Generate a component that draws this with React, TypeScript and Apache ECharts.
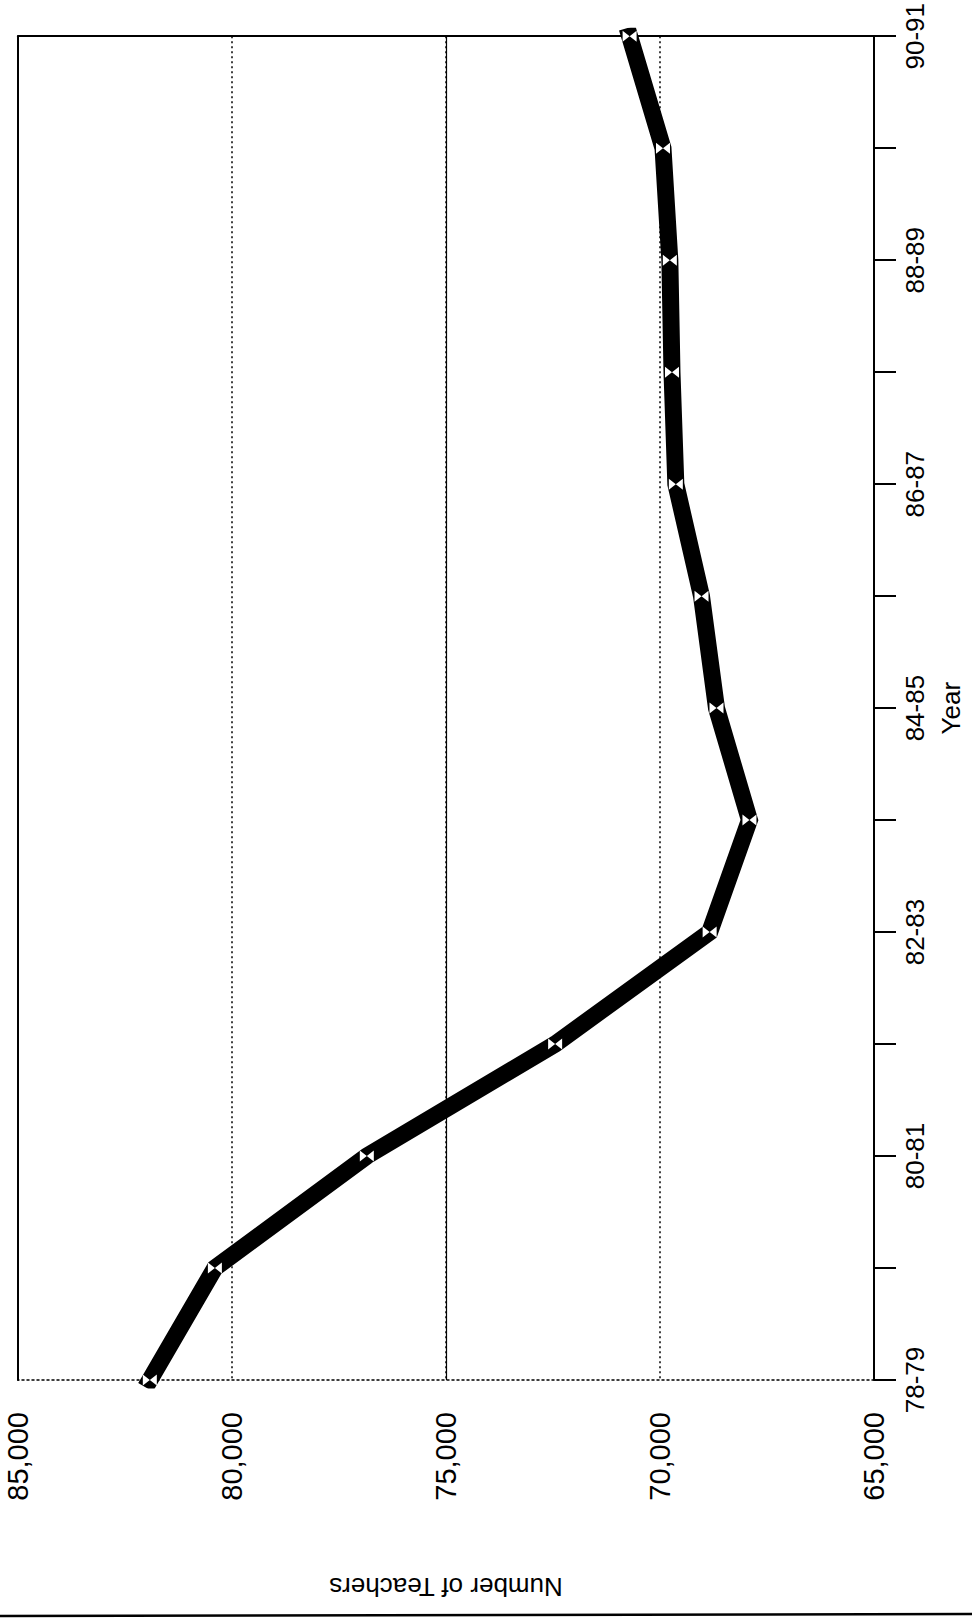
import React, { useEffect, useRef } from "react";
import * as echarts from "echarts";

const categories = ["78-79", "79-80", "80-81", "81-82", "82-83", "83-84", "84-85", "85-86", "86-87", "87-88", "88-89", "89-90", "90-91"];
const teachers = [81920, 80400, 76850, 72450, 68840, 67910, 68680, 69030, 69630, 69720, 69770, 69930, 70710];
const valueMin = 65000;
const valueMax = 85000;
const valueStep = 5000;
const solidGridValue = 75000;

const FONT = "'Liberation Sans', Arial, Helvetica, sans-serif";
const BOWTIE = "path://M0,0 L6,5 L0,10 Z M12,0 L6,5 L12,10 Z";

export default function App() {
  const ref = useRef<HTMLDivElement>(null);
  useEffect(() => {
    if (!ref.current) return;
    const chart = echarts.init(ref.current, null, { renderer: "svg" });
    const fmt = (v: number) => v.toLocaleString("en-US");
    chart.setOption({
      animation: false,
      backgroundColor: "#ffffff",
      textStyle: { fontFamily: FONT, color: "#000" },
      grid: { left: 18, right: 90, top: 35, bottom: 240, containLabel: false },
      xAxis: [
        {
          type: "value",
          position: "bottom",
          inverse: true,
          min: valueMin,
          max: valueMax,
          interval: valueStep,
          name: "Number of Teachers",
          nameLocation: "middle",
          nameRotate: 180,
          nameGap: 194,
          nameTextStyle: { fontSize: 26, color: "#000", fontFamily: FONT },
          axisLine: { show: true, lineStyle: { color: "#000", width: 1.5, type: [2, 3] } },
          axisTick: { show: false },
          axisLabel: { rotate: 90, margin: 32, fontSize: 29, color: "#000", fontFamily: FONT, formatter: fmt },
          splitLine: {
            show: true,
            showMinLine: false,
            showMaxLine: false,
            lineStyle: { color: "#000", width: 1.5, type: [2, 3] },
          },
        },
        {
          type: "value",
          position: "top",
          inverse: true,
          min: valueMin,
          max: valueMax,
          interval: valueStep,
          axisLine: { show: true, lineStyle: { color: "#000", width: 2 } },
          axisTick: { show: false },
          axisLabel: { show: false },
          splitLine: { show: false },
        },
      ],
      yAxis: [
        {
          type: "category",
          position: "right",
          data: categories,
          boundaryGap: false,
          name: "Year",
          nameLocation: "middle",
          nameRotate: 90,
          nameGap: 64,
          nameTextStyle: { fontSize: 26, color: "#000", fontFamily: FONT },
          axisLine: { show: true, lineStyle: { color: "#000", width: 2 } },
          axisTick: { show: true, interval: 0, length: 22, lineStyle: { color: "#000", width: 2 } },
          axisLabel: { interval: 1, rotate: 90, margin: 28, fontSize: 26, color: "#000", fontFamily: FONT },
          splitLine: { show: false },
        },
        {
          type: "category",
          position: "left",
          data: categories,
          boundaryGap: false,
          axisLine: { show: true, lineStyle: { color: "#000", width: 2 } },
          axisTick: { show: false },
          axisLabel: { show: false },
          splitLine: { show: false },
        },
      ],
      series: [
        {
          type: "line",
          xAxisIndex: 0,
          yAxisIndex: 0,
          data: teachers,
          clip: false,
          lineStyle: { color: "#000", width: 17, cap: "square", join: "miter" },
          symbol: BOWTIE,
          symbolSize: [14, 11],
          showSymbol: true,
          itemStyle: { color: "#fff", borderWidth: 0 },
          z: 5,
          markLine: {
            silent: true,
            symbol: "none",
            label: { show: false },
            lineStyle: { color: "#000", width: 1.2, type: "solid" },
            data: [{ xAxis: solidGridValue }],
            z: 1,
          },
        },
      ],
      graphic: [
        {
          type: "line",
          shape: { x1: 0, y1: 1616, x2: 972, y2: 1614 },
          style: { stroke: "#000", lineWidth: 2.5 },
        },
      ],
    });
    return () => chart.dispose();
  }, []);
  return <div ref={ref} style={{ position: "fixed", left: 0, top: 0, width: 972, height: 1620 }} />;
}
